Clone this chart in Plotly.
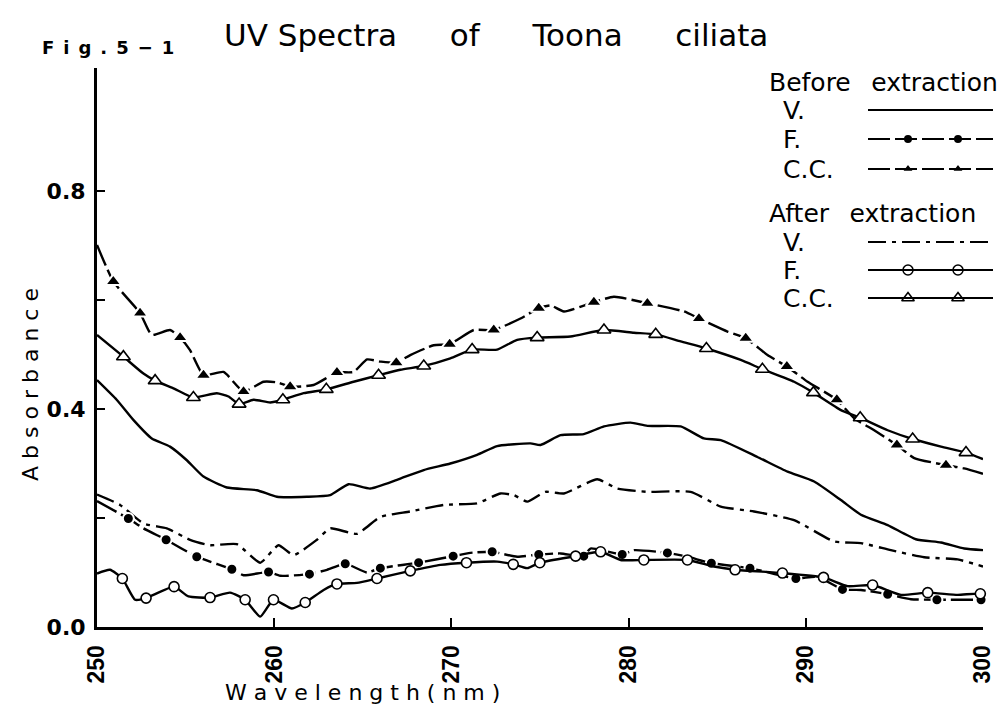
import plotly.graph_objects as go

# ---------------- data ----------------
bcc_x = [250.0, 250.92, 252.43, 253.09, 254.12, 254.69, 255.25, 256.01, 257.14, 258.27, 259.40, 260.15, 260.90,
         262.22, 263.54, 264.48, 265.24, 265.99, 266.89, 267.68, 269.0, 269.9, 271.26, 272.39, 273.9, 274.93,
         275.6, 276.35, 278.04, 279.17, 281.06, 283.13, 283.97, 285.58, 286.61, 287.84, 288.93, 290.1, 291.75,
         292.73, 293.86, 295.14, 296.12, 297.91, 298.94, 300.0]
bcc_y = [0.701, 0.634, 0.576, 0.536, 0.545, 0.531, 0.508, 0.462, 0.468, 0.432, 0.450, 0.449, 0.441,
         0.444, 0.467, 0.468, 0.491, 0.487, 0.485, 0.499, 0.517, 0.519, 0.545, 0.545, 0.566, 0.585,
         0.590, 0.579, 0.596, 0.606, 0.594, 0.579, 0.566, 0.542, 0.530, 0.499, 0.478, 0.450, 0.417,
         0.383, 0.361, 0.334, 0.310, 0.297, 0.291, 0.281]
bcc_mx = [250.92, 252.43, 254.69, 256.01, 258.27, 260.90, 263.54, 266.89, 269.9, 272.39, 274.93, 278.04,
          281.06, 283.97, 286.61, 288.93, 291.75, 295.14, 297.91]
bcc_my = [0.634, 0.576, 0.531, 0.462, 0.432, 0.441, 0.467, 0.485, 0.519, 0.545, 0.585, 0.596,
          0.594, 0.566, 0.530, 0.478, 0.417, 0.334, 0.297]

acc_x = [250.0, 251.49, 252.62, 253.28, 254.31, 255.44, 256.76, 257.42, 258.02, 258.83, 259.77, 260.49, 261.66,
         262.94, 264.48, 265.89, 267.12, 268.44, 269.94, 271.17, 272.58, 273.71, 274.84, 276.72, 278.61, 280.3,
         281.53, 282.94, 284.39, 286.33, 287.55, 289.34, 290.43, 291.98, 293.07, 294.62, 296.03, 297.63, 299.04,
         300.0]
acc_y = [0.536, 0.496, 0.465, 0.452, 0.438, 0.421, 0.429, 0.423, 0.409, 0.417, 0.412, 0.417, 0.429,
         0.436, 0.450, 0.462, 0.472, 0.479, 0.493, 0.509, 0.509, 0.527, 0.531, 0.533, 0.545, 0.540,
         0.537, 0.524, 0.511, 0.490, 0.473, 0.450, 0.430, 0.398, 0.384, 0.361, 0.345, 0.331, 0.320,
         0.308]
acc_mx = [251.49, 253.28, 255.44, 258.02, 260.49, 262.94, 265.89, 268.44, 271.17, 274.84, 278.61, 281.53,
          284.39, 287.55, 290.43, 293.07, 296.03, 299.04]
acc_my = [0.496, 0.452, 0.421, 0.409, 0.417, 0.436, 0.462, 0.479, 0.509, 0.531, 0.545, 0.537,
          0.511, 0.473, 0.430, 0.384, 0.345, 0.320]

bv_x = [250.0, 251.11, 252.05, 253.09, 254.12, 255.07, 256.01, 257.33, 259.02, 260.15, 261.85, 263.16, 264.2,
        265.42, 266.93, 268.44, 269.94, 271.45, 272.58, 274.46, 275.03, 276.16, 277.47, 278.61, 280.11, 281.06,
        282.94, 284.25, 285.2, 287.27, 288.97, 290.47, 291.98, 293.11, 294.62, 296.21, 297.63, 298.94, 300.0]
bv_y = [0.453, 0.417, 0.380, 0.346, 0.331, 0.306, 0.276, 0.256, 0.251, 0.239, 0.239, 0.242, 0.262,
        0.254, 0.270, 0.288, 0.300, 0.316, 0.332, 0.337, 0.334, 0.352, 0.354, 0.368, 0.375, 0.369,
        0.368, 0.346, 0.343, 0.312, 0.285, 0.267, 0.233, 0.206, 0.187, 0.161, 0.155, 0.144, 0.141]

av_x = [250.0, 251.3, 252.62, 253.94, 255.25, 256.38, 257.89, 259.21, 260.24, 261.09, 262.41, 263.16, 264.67,
        265.99, 267.68, 269.57, 271.45, 272.77, 273.52, 274.28, 275.3, 276.35, 278.23, 279.36, 281.06, 283.5,
        285.2, 287.08, 289.34, 291.6, 293.11, 294.8, 296.68, 298.57, 300.0]
av_y = [0.243, 0.224, 0.190, 0.181, 0.160, 0.150, 0.152, 0.118, 0.150, 0.132, 0.160, 0.181, 0.171,
        0.202, 0.212, 0.224, 0.227, 0.245, 0.242, 0.230, 0.248, 0.245, 0.271, 0.254, 0.248, 0.248,
        0.221, 0.212, 0.196, 0.157, 0.154, 0.141, 0.128, 0.124, 0.111]

bf_x = [250.0, 251.77, 252.62, 253.9, 255.63, 257.61, 258.27, 259.68, 260.34, 261.99, 262.98, 264.01, 265.24,
        265.99, 268.15, 270.1, 271.07, 272.3, 273.71, 274.93, 276.16, 277.47, 277.85, 279.64, 280.3, 282.19,
        283.32, 284.67, 286.85, 289.44, 290.66, 292.07, 293.11, 294.62, 295.93, 297.4, 299.89, 300.0]
bf_y = [0.231, 0.199, 0.181, 0.160, 0.129, 0.106, 0.095, 0.101, 0.094, 0.097, 0.105, 0.116, 0.100,
        0.108, 0.118, 0.130, 0.136, 0.138, 0.129, 0.133, 0.135, 0.130, 0.144, 0.133, 0.141, 0.136,
        0.129, 0.117, 0.108, 0.089, 0.092, 0.069, 0.068, 0.060, 0.051, 0.050, 0.050, 0.050]
bf_mx = [251.77, 253.9, 255.63, 257.61, 259.68, 261.99, 264.01, 265.99, 268.15, 270.1, 272.3, 274.93,
         277.47, 279.64, 282.19, 284.67, 286.85, 289.44, 292.07, 294.62, 297.4, 299.89]
bf_my = [0.199, 0.160, 0.129, 0.106, 0.101, 0.097, 0.116, 0.108, 0.118, 0.130, 0.138, 0.133,
         0.130, 0.133, 0.136, 0.117, 0.108, 0.089, 0.069, 0.060, 0.050, 0.050]

af_x = [250.0, 250.73, 251.43, 252.15, 252.77, 254.35, 255.16, 256.38, 257.51, 258.36, 259.21, 259.96, 261.0,
        261.75, 262.79, 263.54, 264.67, 265.8, 267.68, 269.38, 270.85, 272.58, 273.49, 274.28, 274.99, 277.01,
        278.42, 279.55, 280.86, 283.32, 284.82, 286.01, 288.68, 291.0, 292.36, 293.77, 295.37, 296.88, 298.57,
        299.85, 300.0]
af_y = [0.098, 0.105, 0.089, 0.050, 0.053, 0.074, 0.056, 0.054, 0.063, 0.050, 0.019, 0.050, 0.034,
        0.045, 0.068, 0.079, 0.081, 0.089, 0.103, 0.114, 0.118, 0.120, 0.115, 0.108, 0.118, 0.130,
        0.138, 0.123, 0.123, 0.123, 0.111, 0.105, 0.099, 0.091, 0.075, 0.077, 0.059, 0.063, 0.059,
        0.061, 0.056]
af_mx = [251.43, 252.77, 254.35, 256.38, 258.36, 259.96, 261.75, 263.54, 265.8, 267.68, 270.85, 273.49,
         274.99, 277.01, 278.42, 280.86, 283.32, 286.01, 288.68, 291.0, 293.77, 296.88, 299.85]
af_my = [0.089, 0.053, 0.074, 0.054, 0.050, 0.050, 0.045, 0.079, 0.089, 0.103, 0.118, 0.115,
         0.118, 0.130, 0.138, 0.123, 0.123, 0.105, 0.099, 0.091, 0.077, 0.063, 0.061]

x_ticks = [250, 260, 270, 280, 290, 300]
x_tick_labels = ["250", "260", "270", "280", "290", "300"]
y_ticks = [0.0, 0.2, 0.4, 0.6, 0.8]
y_tick_labels = ["0.0", "", "0.4", "", "0.8"]

# ---------------- styles ----------------
FONT = "DejaVu Sans, Verdana, sans-serif"
FONT_NARROW = "Liberation Sans, Arial, sans-serif"
BLACK = "black"
LW = 2.4
DASH_FILLED = "22px,5px"
DASH_DOTDASH = "18px,6px,4px,6px"

W, H = 1008, 716
L, R, T, B = 97, 25, 68, 89
PW, PH = W - L - R, H - T - B

def px(xp):
    return (xp - L) / PW

def py(yp):
    return (H - B - yp) / PH

fig = go.Figure()

def line(x, y, dash):
    fig.add_trace(go.Scatter(x=x, y=y, mode="lines", showlegend=False, hoverinfo="skip",
                             line=dict(color=BLACK, width=LW, dash=dash, shape="spline", smoothing=0.5)))

def marks(x, y, symbol, size, filled):
    fig.add_trace(go.Scatter(x=x, y=y, mode="markers", showlegend=False, hoverinfo="skip",
                             cliponaxis=False,
                             marker=dict(symbol=symbol, size=size,
                                         color=BLACK if filled else "white",
                                         line=dict(color="white" if filled else BLACK,
                                                   width=2 if filled else 1.6))))

line(bcc_x, bcc_y, DASH_FILLED)
marks(bcc_mx, bcc_my, "triangle-up", 14, True)
line(acc_x, acc_y, "solid")
marks(acc_mx, acc_my, "triangle-up", 12, False)
line(bv_x, bv_y, "solid")
line(av_x, av_y, DASH_DOTDASH)
line(bf_x, bf_y, DASH_FILLED)
marks(bf_mx, bf_my, "circle", 11, True)
line(af_x, af_y, "solid")
marks(af_mx, af_my, "circle", 10, False)

# ---------------- custom legend ----------------
legend_rows = [
    ("Before\u2002\u00a0extraction", None, 82),
    ("V.", ("solid", None, None), 110),
    ("F.", (DASH_FILLED, "circle", True), 139),
    ("C.C.", (DASH_FILLED, "triangle-up", True), 169),
    ("After\u2002\u00a0extraction", None, 213),
    ("V.", (DASH_DOTDASH, None, None), 242),
    ("F.", ("solid", "circle", False), 270),
    ("C.C.", ("solid", "triangle-up", False), 298),
]
annotations = []
shapes = []
for text, style, ypix in legend_rows:
    if style is None:
        annotations.append(dict(text=text, x=px(767), y=py(ypix), xref="paper", yref="paper",
                                xanchor="left", yanchor="middle", showarrow=False,
                                font=dict(family=FONT, size=25, color=BLACK)))
    else:
        dash, sym, filled = style
        annotations.append(dict(text=text, x=px(781), y=py(ypix), xref="paper", yref="paper",
                                xanchor="left", yanchor="middle", showarrow=False,
                                font=dict(family=FONT, size=25, color=BLACK)))
        shapes.append(dict(type="line", xref="paper", yref="paper", x0=px(868), x1=px(993),
                           y0=py(ypix), y1=py(ypix), line=dict(color=BLACK, width=2, dash=dash)))
        if sym is not None:
            fig.add_trace(go.Scatter(x=[px(908), px(958)], y=[py(ypix), py(ypix)], mode="markers",
                                     xaxis="x2", yaxis="y2", showlegend=False, hoverinfo="skip",
                                     cliponaxis=False,
                                     marker=dict(symbol=sym, size=10 if sym == "circle" else 11,
                                                 color=BLACK if filled else "white",
                                                 line=dict(color="white" if filled else BLACK,
                                                           width=2 if filled else 1.5))))

# titles / labels
NB = "\u00a0"
GAP = "\u2003\u2002\u2009"
annotations += [
    dict(text="UV Spectra" + GAP + "of" + GAP + "Toona" + GAP + "ciliata",
         x=px(496), y=py(35),
         xref="paper", yref="paper", xanchor="center", yanchor="middle", showarrow=False,
         font=dict(family=FONT, size=31, color=BLACK)),
    dict(text="\u2002".join("Fig.5") + "\u2002" + "\u2212" + "\u2002" + "1", x=px(40), y=py(47),
         xref="paper", yref="paper",
         xanchor="left", yanchor="middle", showarrow=False,
         font=dict(family=FONT, size=18, color=BLACK, weight="bold")),
    dict(text=NB.join("Absorbance"), x=px(30), y=py(385), xref="paper", yref="paper",
         xanchor="center", yanchor="middle", showarrow=False, textangle=-90,
         font=dict(family=FONT, size=22, color=BLACK)),
    dict(text=NB.join("Wavelength(nm)"), x=px(362), y=py(692), xref="paper", yref="paper",
         xanchor="center", yanchor="middle", showarrow=False,
         font=dict(family=FONT, size=22, color=BLACK)),
]

fig.update_layout(
    width=W, height=H,
    margin=dict(l=L, r=R, t=T, b=B),
    paper_bgcolor="white", plot_bgcolor="white",
    showlegend=False,
    annotations=annotations,
    shapes=shapes,
    xaxis=dict(range=[250, 300], showgrid=False, zeroline=False, showline=True, linewidth=3,
               linecolor=BLACK, ticks="inside", ticklen=9, tickwidth=2, tickcolor=BLACK,
               tickvals=x_ticks, ticktext=x_tick_labels, tickangle=-90, ticklabelstandoff=6,
               tickfont=dict(family=FONT_NARROW, size=23, color=BLACK, weight="bold")),
    yaxis=dict(range=[0, (H - B - T) / 545], showgrid=False, zeroline=False, showline=True, linewidth=3,
               linecolor=BLACK, ticks="inside", ticklen=8, tickwidth=2, tickcolor=BLACK,
               tickvals=y_ticks, ticktext=y_tick_labels, ticklabelstandoff=4,
               tickfont=dict(family=FONT, size=22, color=BLACK, weight="bold")),
    xaxis2=dict(overlaying="x", range=[0, 1], visible=False, fixedrange=True),
    yaxis2=dict(overlaying="y", range=[0, 1], visible=False, fixedrange=True),
)

fig.write_html("out.html", config={"displayModeBar": False},
               post_script="document.body.style.margin='0';document.body.style.padding='0';")
